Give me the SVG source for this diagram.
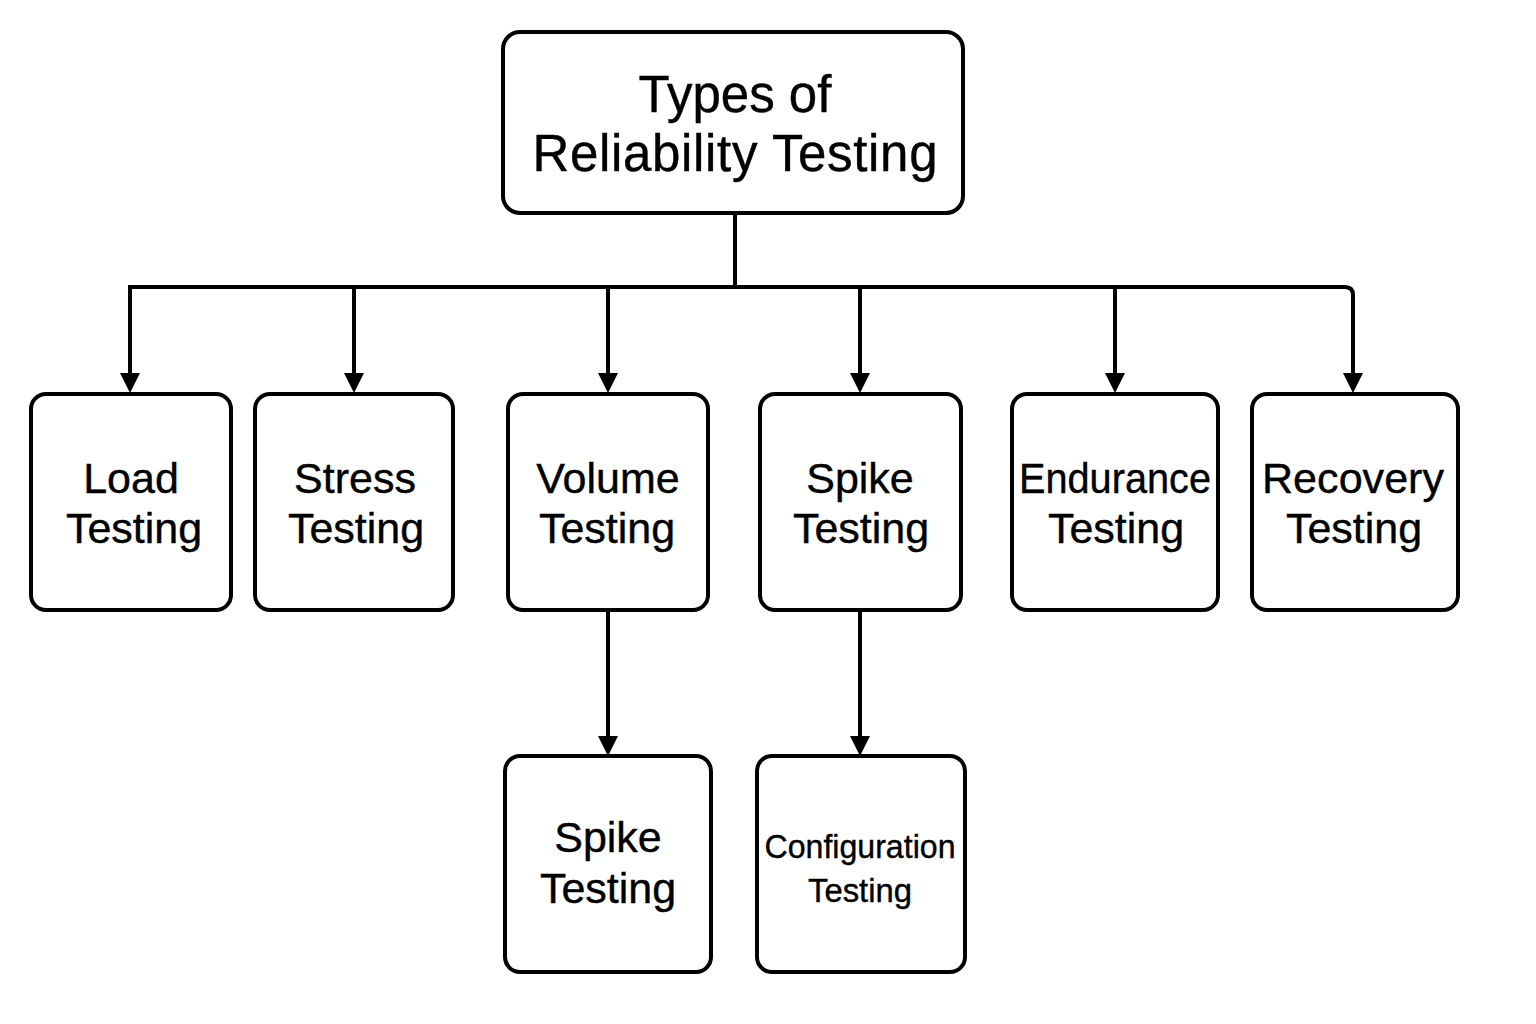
<svg xmlns="http://www.w3.org/2000/svg" width="1536" height="1024" viewBox="0 0 1536 1024">
  <style>
    .box { fill: #ffffff; stroke: #000000; stroke-width: 4; }
    .edge { fill: none; stroke: #000000; stroke-width: 4; }
    .lbl { font-family: "Liberation Sans", Arial, sans-serif; fill: #000000; text-anchor: middle; stroke: #000000; stroke-width: 0.4; }
    .title { font-size: 51px; }
    .node { font-size: 43px; }
    .small { font-size: 34px; }
  </style>
  <defs>
    <marker id="arrow" viewBox="0 0 20 20" refX="0" refY="10" markerWidth="20" markerHeight="20" markerUnits="userSpaceOnUse" orient="auto">
      <path d="M0,0 L20,10 L0,20 z" fill="#000000"/>
    </marker>
  </defs>
  <rect width="1536" height="1024" fill="#ffffff"/>

  <g id="connectors">
    <path class="edge" d="M735,213 V287"/>
    <path class="edge" d="M130,373 V287 H1345 Q1353,287 1353,295 V373" marker-end="url(#arrow)"/>
    <path class="edge" d="M130,287 V373" marker-end="url(#arrow)"/>
    <path class="edge" d="M354,287 V373" marker-end="url(#arrow)"/>
    <path class="edge" d="M608,287 V373" marker-end="url(#arrow)"/>
    <path class="edge" d="M860,287 V373" marker-end="url(#arrow)"/>
    <path class="edge" d="M1115,287 V373" marker-end="url(#arrow)"/>
    <path class="edge" d="M608,610 V736" marker-end="url(#arrow)"/>
    <path class="edge" d="M860,610 V736" marker-end="url(#arrow)"/>
  </g>

  <g id="root">
    <rect class="box" x="503" y="32" width="460" height="181" rx="17"/>
    <text class="lbl title" x="735" y="112">Types of</text>
    <text class="lbl title" x="735" y="171" textLength="405">Reliability Testing</text>
  </g>

  <g id="load">
    <rect class="box" x="31" y="394" width="200" height="216" rx="15"/>
    <text class="lbl node" x="131" y="493">Load</text>
    <text class="lbl node" x="134" y="543">Testing</text>
  </g>

  <g id="stress">
    <rect class="box" x="255" y="394" width="198" height="216" rx="15"/>
    <text class="lbl node" x="355" y="493">Stress</text>
    <text class="lbl node" x="356" y="543">Testing</text>
  </g>

  <g id="volume">
    <rect class="box" x="508" y="394" width="200" height="216" rx="15"/>
    <text class="lbl node" x="608" y="493">Volume</text>
    <text class="lbl node" x="607" y="543">Testing</text>
  </g>

  <g id="spike">
    <rect class="box" x="760" y="394" width="201" height="216" rx="15"/>
    <text class="lbl node" x="860" y="493">Spike</text>
    <text class="lbl node" x="861" y="543">Testing</text>
  </g>

  <g id="endurance">
    <rect class="box" x="1012" y="394" width="206" height="216" rx="15"/>
    <text class="lbl node" x="1115" y="493" textLength="192" lengthAdjust="spacingAndGlyphs">Endurance</text>
    <text class="lbl node" x="1116" y="543">Testing</text>
  </g>

  <g id="recovery">
    <rect class="box" x="1252" y="394" width="206" height="216" rx="15"/>
    <text class="lbl node" x="1353" y="493" textLength="182" lengthAdjust="spacingAndGlyphs">Recovery</text>
    <text class="lbl node" x="1354" y="543">Testing</text>
  </g>

  <g id="spike2">
    <rect class="box" x="505" y="756" width="206" height="216" rx="15"/>
    <text class="lbl node" x="608" y="852">Spike</text>
    <text class="lbl node" x="608" y="903">Testing</text>
  </g>

  <g id="configuration">
    <rect class="box" x="757" y="756" width="208" height="216" rx="15"/>
    <text class="lbl small" x="860" y="858" textLength="191" lengthAdjust="spacingAndGlyphs">Configuration</text>
    <text class="lbl small" x="860" y="902" textLength="104" lengthAdjust="spacingAndGlyphs">Testing</text>
  </g>
</svg>
